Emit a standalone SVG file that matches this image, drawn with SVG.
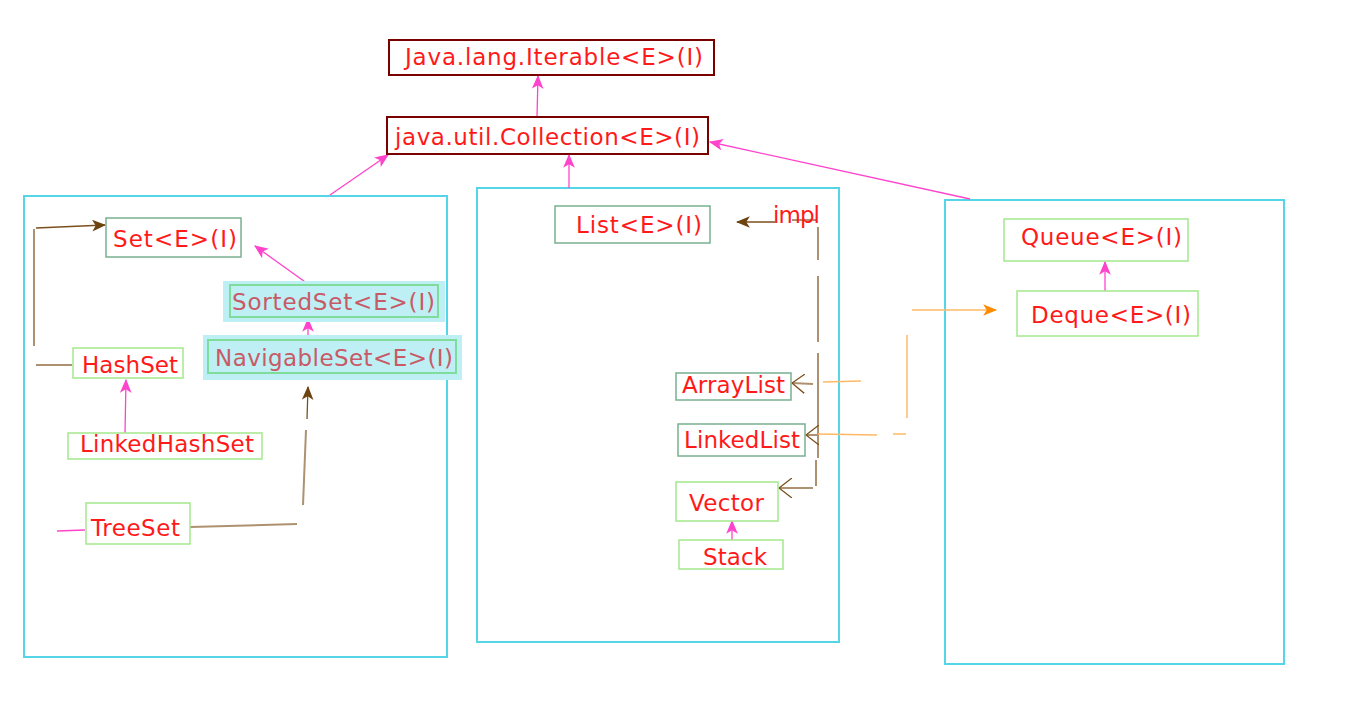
<svg xmlns="http://www.w3.org/2000/svg" width="1366" height="705" viewBox="0 0 1366 705">
<style>
text{font-family:"DejaVu Sans",Verdana,sans-serif;font-size:23px;fill:#ff1a1a}
.top{fill:#fff;stroke:#7a0000;stroke-width:2}
.dk{fill:#fff;stroke:#78b090;stroke-width:1.5}
.lt{fill:#fff;stroke:#a3e88c;stroke-width:1.5}
.hl{fill:#bdeff4;stroke:none}
.hb{fill:none;stroke:#7fdc9a;stroke-width:2}
.cont{fill:none;stroke:#55d6e8;stroke-width:2}
.pk{fill:none;stroke:#ff44cc;stroke-width:1.3}
.br{fill:none;stroke:#ad9170;stroke-width:2}
.brd{fill:none;stroke:#7a4f1c;stroke-width:1.3}
.or{fill:none;stroke:#ffb964;stroke-width:1.5}
.dim{fill:#c85a66}
</style>
<defs>
<marker id="mp" viewBox="0 0 12 10" refX="11" refY="5" markerWidth="14" markerHeight="12" markerUnits="userSpaceOnUse" orient="auto"><path d="M0,0 L12,5 L0,10 L3,5 z" fill="#ff44cc"/></marker>
<marker id="mb" viewBox="0 0 12 10" refX="11" refY="5" markerWidth="14" markerHeight="12" markerUnits="userSpaceOnUse" orient="auto"><path d="M0,0 L12,5 L0,10 L3,5 z" fill="#6b4410"/></marker>
<marker id="mo" viewBox="0 0 12 10" refX="11" refY="5" markerWidth="14" markerHeight="12" markerUnits="userSpaceOnUse" orient="auto"><path d="M0,0 L12,5 L0,10 L3,5 z" fill="#ff8c00"/></marker>
<marker id="mv" viewBox="0 0 14 20" refX="13" refY="10" markerWidth="14" markerHeight="20" markerUnits="userSpaceOnUse" orient="auto"><path d="M0,0 L13,10 L0,20" fill="none" stroke="#7a4f1c" stroke-width="1.3"/></marker>
</defs>

<g id="containers">
<rect class="cont" x="24" y="196" width="423" height="461"/>
<rect class="cont" x="477" y="188" width="362" height="454"/>
<rect class="cont" x="945" y="200" width="339" height="464"/>
</g>

<g id="connectors">
<line class="pk" x1="537" y1="117" x2="538" y2="76" marker-end="url(#mp)"/>
<line class="pk" x1="569" y1="188" x2="569" y2="155" marker-end="url(#mp)"/>
<line class="pk" x1="330" y1="195" x2="388" y2="155" marker-end="url(#mp)"/>
<line class="pk" x1="970" y1="199" x2="710" y2="142" marker-end="url(#mp)"/>
<line class="pk" x1="308" y1="284" x2="255" y2="246" marker-end="url(#mp)"/>
<line class="pk" x1="308" y1="340" x2="308" y2="319" marker-end="url(#mp)"/>
<line class="pk" x1="125" y1="433" x2="126" y2="380" marker-end="url(#mp)"/>
<line class="pk" x1="57" y1="531" x2="85" y2="530"/>
<line class="pk" x1="732" y1="540" x2="732" y2="521" marker-end="url(#mp)"/>
<line class="pk" x1="1105" y1="291" x2="1105" y2="262" marker-end="url(#mp)"/>
<line class="br" x1="34" y1="346" x2="34" y2="229"/>
<line class="brd" x1="36" y1="228" x2="105" y2="225" marker-end="url(#mb)"/>
<line class="br" x1="36" y1="365" x2="72" y2="365" stroke-width="1.5"/>
<line class="br" x1="190" y1="527" x2="297" y2="524" stroke-width="1.5"/>
<line class="br" x1="303" y1="505" x2="306" y2="430" stroke-width="1.5"/>
<line class="brd" x1="307" y1="419" x2="308" y2="387" marker-end="url(#mb)"/>
<line class="brd" x1="775" y1="222" x2="737" y2="222" stroke-width="2" marker-end="url(#mb)"/>
<line class="br" x1="792" y1="220" x2="817" y2="220"/>
<line class="br" x1="818" y1="227" x2="818" y2="260"/>
<line class="br" x1="818" y1="276" x2="818" y2="342"/>
<line class="br" x1="818" y1="353" x2="818" y2="458"/>
<line class="br" x1="816" y1="460" x2="816" y2="486"/>
<line class="br" x1="813" y1="488" x2="779" y2="488" marker-end="url(#mv)"/>
<line class="br" x1="813" y1="384" x2="792" y2="383" stroke-width="1.5" marker-end="url(#mv)"/>
<line class="br" x1="817" y1="435" x2="806" y2="435" stroke-width="1.5" marker-end="url(#mv)"/>
<line class="or" x1="823" y1="382" x2="861" y2="381"/>
<line class="or" x1="818" y1="434" x2="877" y2="435"/>
<line class="or" x1="893" y1="434" x2="906" y2="434"/>
<line class="or" x1="907" y1="335" x2="907" y2="418"/>
<line class="or" x1="912" y1="310" x2="996" y2="310" marker-end="url(#mo)"/>
</g>

<g id="iterable"><rect class="top" x="389" y="40" width="325" height="35"/><text x="405" y="65" textLength="298" lengthAdjust="spacing">Java.lang.Iterable&lt;E&gt;(I)</text></g>
<g id="collection"><rect class="top" x="387" y="117" width="321" height="37"/><text x="395" y="145" textLength="305" lengthAdjust="spacing">java.util.Collection&lt;E&gt;(I)</text></g>

<g id="set"><rect class="dk" x="106" y="218" width="135" height="39"/><text x="113" y="247" textLength="124" lengthAdjust="spacing">Set&lt;E&gt;(I)</text></g>
<g id="sortedset"><rect class="hl" x="223" y="281" width="222" height="41"/><rect class="hb" x="230" y="285" width="208" height="32"/><text class="dim" x="232" y="310" textLength="203" lengthAdjust="spacing">SortedSet&lt;E&gt;(I)</text></g>
<g id="navigableset"><rect class="hl" x="203" y="335" width="259" height="45"/><rect class="hb" x="208" y="340" width="248" height="33"/><text class="dim" x="215" y="366" textLength="238" lengthAdjust="spacing">NavigableSet&lt;E&gt;(I)</text></g>
<g id="hashset"><rect class="lt" x="73" y="348" width="110" height="30"/><text x="82" y="373" textLength="96" lengthAdjust="spacing">HashSet</text></g>
<g id="linkedhashset"><rect class="lt" x="68" y="433" width="194" height="26"/><text x="80" y="452" textLength="174" lengthAdjust="spacing">LinkedHashSet</text></g>
<g id="treeset"><rect class="lt" x="86" y="503" width="104" height="41"/><text x="91" y="536" textLength="89" lengthAdjust="spacing">TreeSet</text></g>

<g id="list"><rect class="dk" x="555" y="206" width="155" height="37"/><text x="576" y="233" textLength="126" lengthAdjust="spacing">List&lt;E&gt;(I)</text></g>
<g id="impl"><text x="773" y="223" textLength="47" lengthAdjust="spacing">impl</text></g>
<g id="arraylist"><rect class="dk" x="676" y="373" width="115" height="27"/><text x="682" y="393" textLength="103" lengthAdjust="spacing">ArrayList</text></g>
<g id="linkedlist"><rect class="dk" x="678" y="424" width="127" height="32"/><text x="684" y="448" textLength="116" lengthAdjust="spacing">LinkedList</text></g>
<g id="vector"><rect class="lt" x="676" y="482" width="102" height="39"/><text x="689" y="511" textLength="75" lengthAdjust="spacing">Vector</text></g>
<g id="stack"><rect class="lt" x="679" y="540" width="104" height="29"/><text x="703" y="565" textLength="64" lengthAdjust="spacing">Stack</text></g>

<g id="queue"><rect class="lt" x="1004" y="219" width="184" height="42"/><text x="1021" y="245" textLength="161" lengthAdjust="spacing">Queue&lt;E&gt;(I)</text></g>
<g id="deque"><rect class="lt" x="1017" y="291" width="181" height="45"/><text x="1031" y="323" textLength="160" lengthAdjust="spacing">Deque&lt;E&gt;(I)</text></g>
</svg>
